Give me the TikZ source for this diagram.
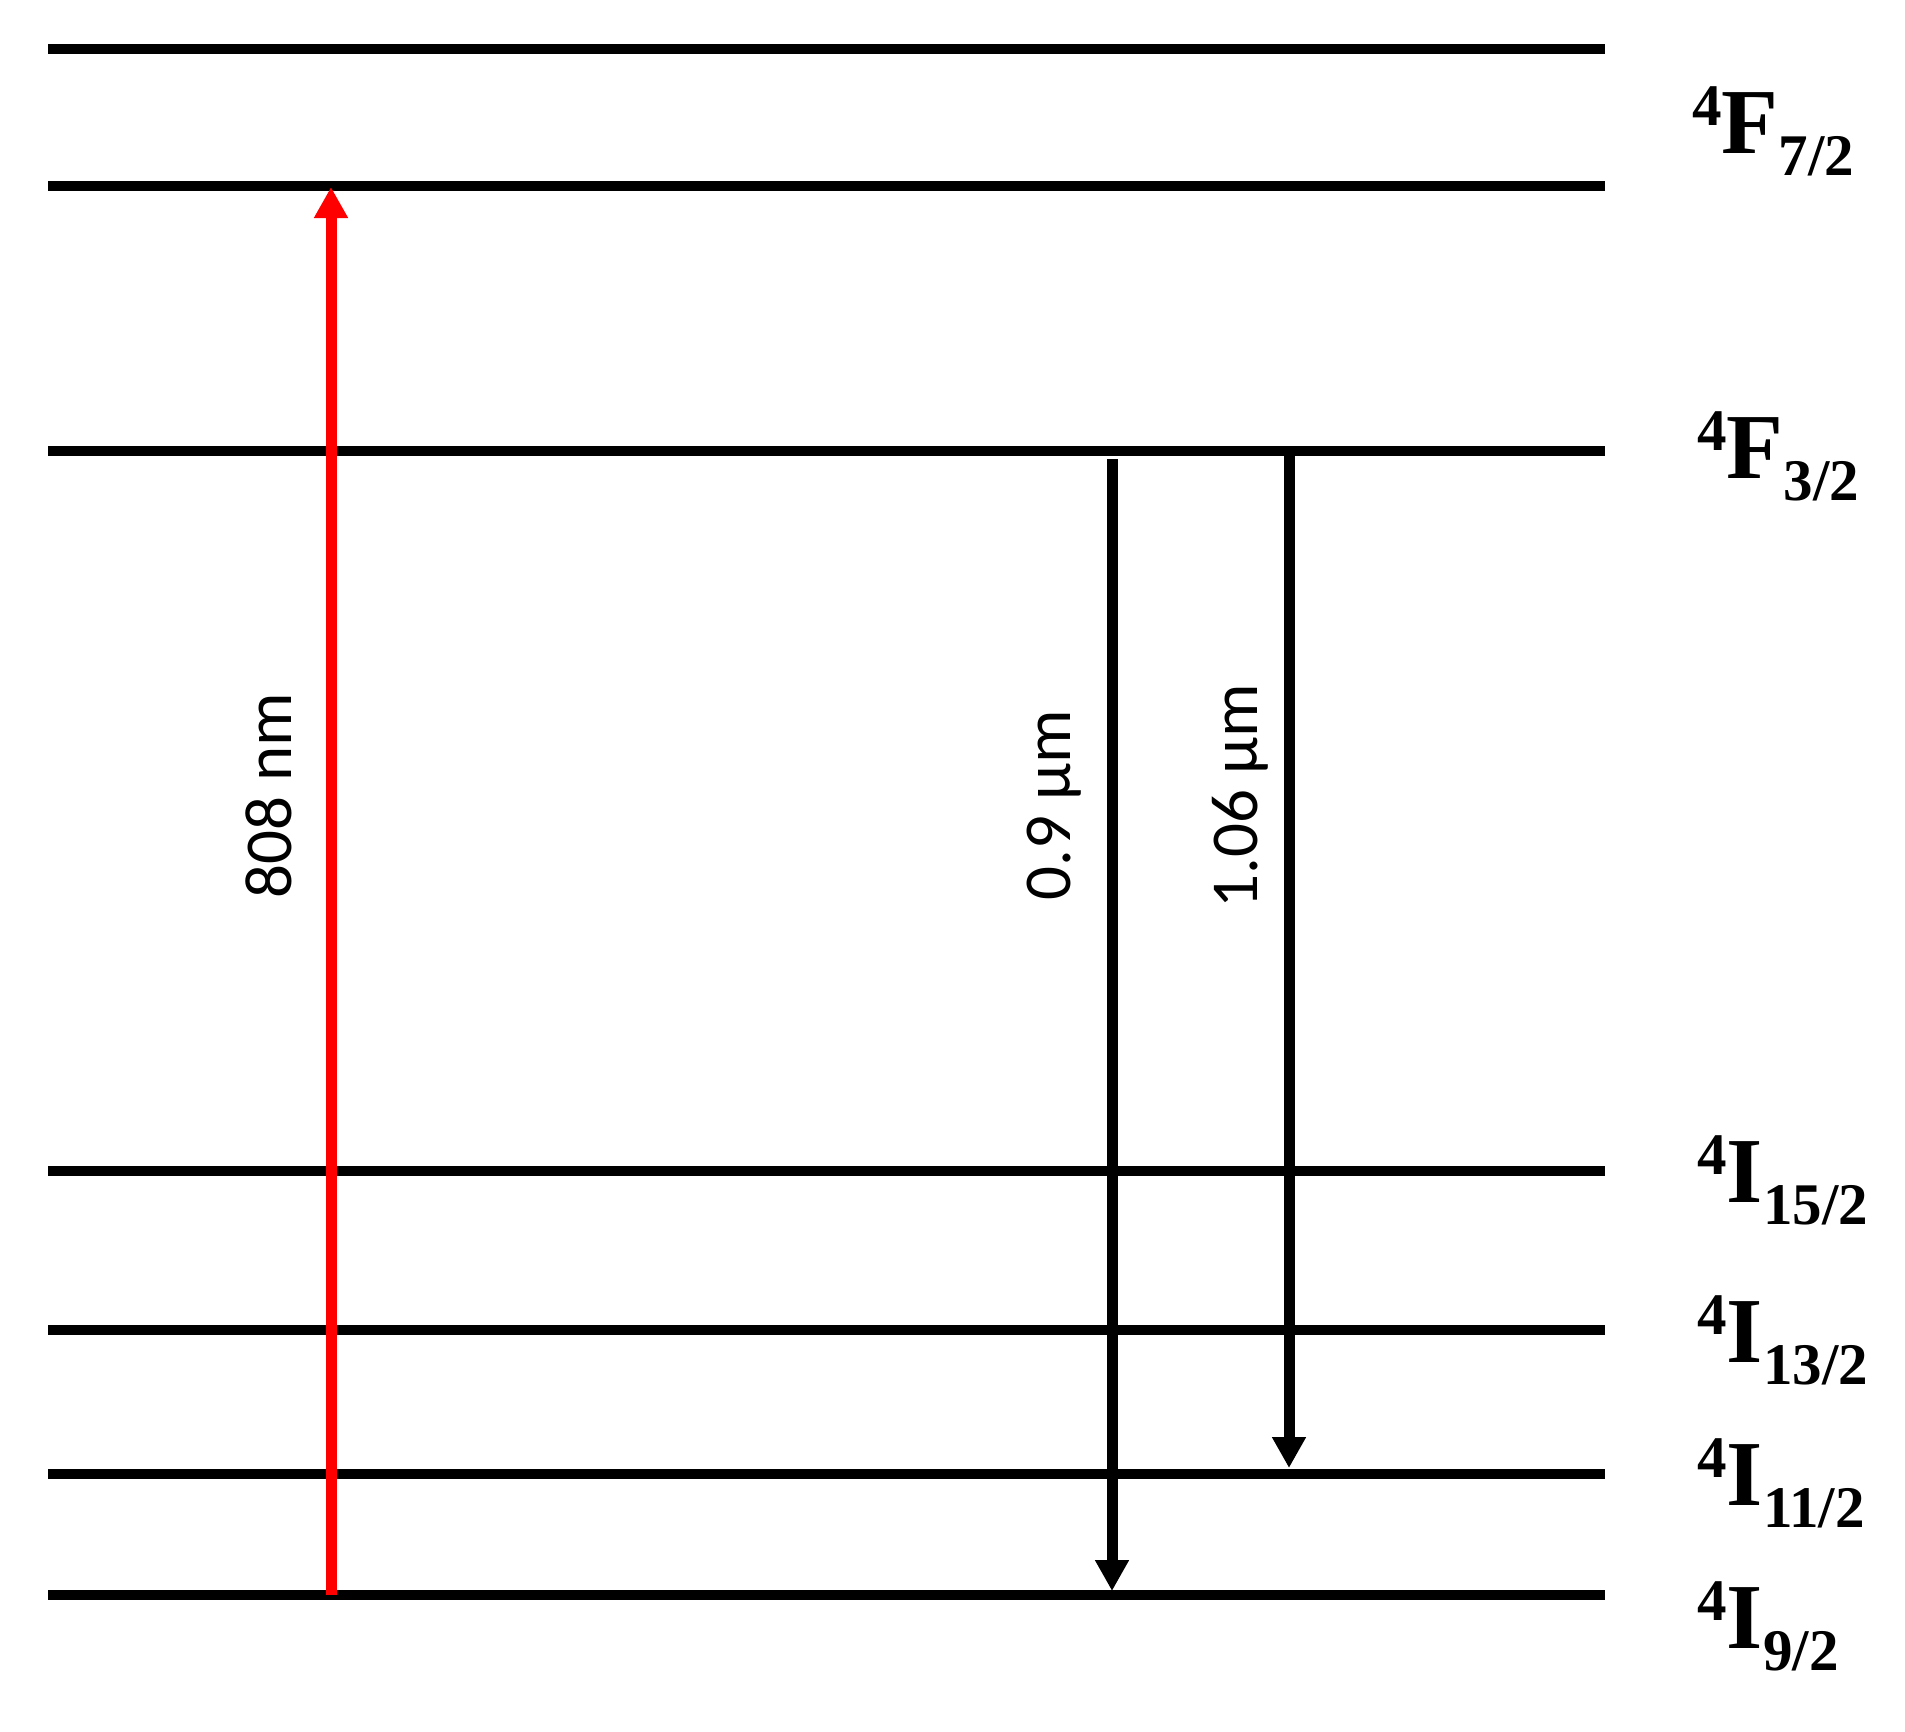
\documentclass[tikz,border=0pt]{standalone}
\usepackage{fontspec}
\setmainfont{Liberation Serif}
\newfontfamily\calib{Carlito}
\usetikzlibrary{arrows.meta}
\newcommand\termlab[3]{{\fontsize{29.5}{30}\selectfont\raisebox{14pt}{#1}}{\fontsize{46.5}{50}\selectfont #2}{\fontsize{29.5}{30}\selectfont\raisebox{-11pt}{#3}}}
\begin{document}
\begin{tikzpicture}[x=0.5pt,y=-0.5pt,
  level/.style={line width=4.8pt, line cap=butt},
  trans/.style={line width=5.5pt, line cap=butt, -{Triangle[width=16pt,length=15.5pt]}},
  pump/.style={trans, draw=red},
  wl/.style={font=\calib\fontsize{33.5}{40}\selectfont, rotate=90, anchor=base, inner sep=0pt},
  lab/.style={anchor=base west, inner sep=0pt, font=\bfseries}]
\useasboundingbox (0,0) rectangle (1905,1731);
% energy levels
\foreach \n/\y in {a/49, b/186, c/451, d/1171, e/1330, f/1474, g/1595}{
  \coordinate (\n0) at (48,\y);
  \coordinate (\n1) at (1605,\y);
  \draw[level] (\n0) -- (\n1);
}
% labels
\node[lab] (lF7) at (1692,153) {\termlab{4}{F}{7/2}};
\node[lab] (lF3) at (1697,478) {\termlab{4}{F}{3/2}};
\node[lab] (lI15) at (1697,1202) {\termlab{4}{I}{15/2}};
\node[lab] (lI13) at (1697,1362) {\termlab{4}{I}{13/2}};
\node[lab] (lI11) at (1697,1505) {\termlab{4}{I}{11/2}};
\node[lab] (lI9) at (1697,1648) {\termlab{4}{I}{9/2}};
% transitions
\coordinate (pS) at (331,1595);
\coordinate (pE) at (331,187);
\draw[pump] (pS) -- (pE);
\coordinate (aS) at (1112,459);
\coordinate (aE) at (1112,1591);
\draw[trans] (aS) -- (aE);
\coordinate (bS) at (1289,451);
\coordinate (bE) at (1289,1468);
\draw[trans] (bS) -- (bE);
% wavelength labels
\node[wl] (w1) at (291,796) {808 nm};
\node[wl] (w2) at (1070,805) {0.9 µm};
\node[wl] (w3) at (1257,796) {1.06 µm};
\end{tikzpicture}
\end{document}
